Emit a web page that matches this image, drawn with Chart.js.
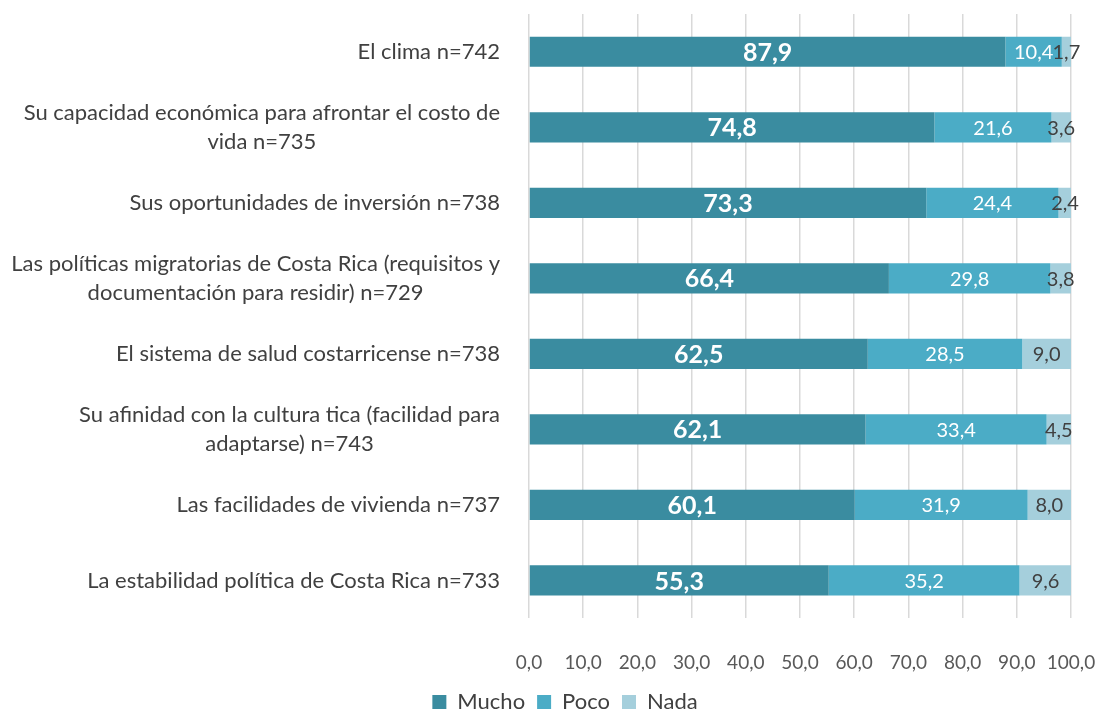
<!DOCTYPE html>
<html>
<head>
<meta charset="utf-8">
<script src="https://cdn.jsdelivr.net/npm/chart.js@4.4.0/dist/chart.umd.min.js"></script>
<style>
  html, body { margin: 0; padding: 0; background: #fff; }
</style>
</head>
<body>
<canvas id="factorsChart" width="1099" height="711"></canvas>
<script>
const categories = [
    ["El clima n=742"],
    ["Su capacidad económica para afrontar el costo de", "vida n=735"],
    ["Sus oportunidades de inversión n=738"],
    ["Las políticas migratorias de Costa Rica (requisitos y", "documentación para residir) n=729"],
    ["El sistema de salud costarricense n=738"],
    ["Su afinidad con la cultura tica (facilidad para", "adaptarse) n=743"],
    ["Las facilidades de vivienda n=737"],
    ["La estabilidad política de Costa Rica n=733"]
];
const mucho = [87.9, 74.8, 73.3, 66.4, 62.5, 62.1, 60.1, 55.3];
const poco = [10.4, 21.6, 24.4, 29.8, 28.5, 33.4, 31.9, 35.2];
const nada = [1.7, 3.6, 2.4, 3.8, 9.0, 4.5, 8.0, 9.6];
const xTicks = [0, 10, 20, 30, 40, 50, 60, 70, 80, 90, 100];

const fontFamily = "Lato, 'Open Sans', sans-serif";
const fmt = v => v.toFixed(1).replace(".", ",");

const canvas = document.getElementById("factorsChart");
const ctx = canvas.getContext("2d");

// label styles per dataset
const labelStyle = [
    {font: "bold 25px " + fontFamily, color: "#ffffff"},
    {font: "20px " + fontFamily, color: "#ffffff"},
    {font: "20px " + fontFamily, color: "#404040"}
];

const barLabels = {
    id: "barLabels",
    afterDatasetsDraw(chart){
        const c = chart.ctx;
        c.save();
        c.textAlign = "center";
        c.textBaseline = "middle";
        chart.data.datasets.forEach((ds, i) => {
            const meta = chart.getDatasetMeta(i);
            c.font = labelStyle[i].font;
            c.fillStyle = labelStyle[i].color;
            meta.data.forEach((bar, j) => {
                const x = (bar.x + bar.base) / 2;
                c.fillText(fmt(ds.data[j]), x, bar.y + 1);
            });
        });
        c.restore();
    }
};

const categoryLabels = {
    id: "categoryLabels",
    afterDraw(chart){
        const c = chart.ctx;
        const yScale = chart.scales.y;
        const right = 500;
        const lineH = 29;
        c.save();
        c.font = "22px " + fontFamily;
        c.fillStyle = "#404040";
        c.textBaseline = "middle";
        c.textAlign = "center";
        categories.forEach((lines, i) => {
            const y = yScale.getPixelForValue(i);
            const blockW = Math.max(...lines.map(l => c.measureText(l).width));
            const cx = right - blockW / 2;
            lines.forEach((line, k) => {
                const ly = y + (k - (lines.length - 1) / 2) * lineH;
                c.fillText(line, cx, ly);
            });
        });
        c.restore();
    }
};

new Chart(ctx, {
    type: "bar",
    data: {
        labels: categories,
        datasets: [
            {label: "Mucho", data: mucho, backgroundColor: "#3A8CA0"},
            {label: "Poco", data: poco, backgroundColor: "#4BACC6"},
            {label: "Nada", data: nada, backgroundColor: "#A5CFDC"}
        ]
    },
    options: {
        indexAxis: "y",
        responsive: false,
        animation: false,
        datasets: {
            bar: {categoryPercentage: 1, barPercentage: 0.4}
        },
        layout: {
            padding: {left: 59, right: 28, top: 14, bottom: -12}
        },
        plugins: {
            legend: {
                position: "bottom",
                labels: {
                    boxWidth: 14,
                    boxHeight: 14,
                    padding: 12,
                    color: "#404040",
                    font: {family: fontFamily, size: 22}
                }
            },
            tooltip: {enabled: false}
        },
        scales: {
            x: {
                stacked: true,
                min: 0,
                max: 100,
                afterBuildTicks: scale => {
                    scale.ticks = xTicks.map(v => ({value: v}));
                },
                afterFit: scale => {
                    scale.paddingLeft = 0;
                    scale.paddingRight = 0;
                    scale.height -= 28;
                },
                ticks: {
                    padding: 33,
                    maxRotation: 0,
                    minRotation: 0,
                    autoSkip: false,
                    color: "#595959",
                    font: {family: fontFamily, size: 19},
                    callback: v => fmt(v)
                },
                grid: {color: "#d9d9d9", lineWidth: 1.5, drawTicks: false},
                border: {display: false}
            },
            y: {
                stacked: true,
                ticks: {display: false},
                grid: {display: false},
                border: {display: false},
                afterFit: scale => {
                    scale.width = 470;
                }
            }
        }
    },
    plugins: [barLabels, categoryLabels]
});
</script>
</body>
</html>
